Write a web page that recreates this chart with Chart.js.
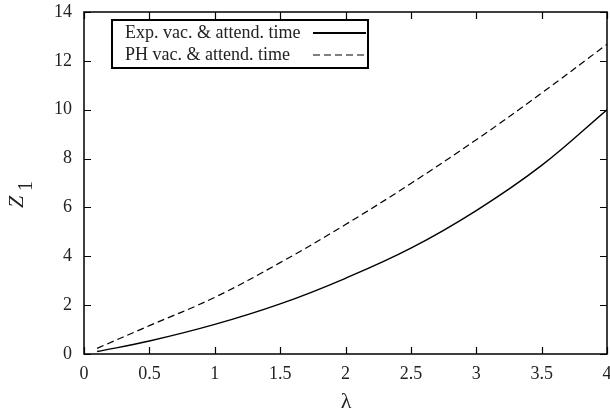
<!DOCTYPE html>
<html>
<head>
<meta charset="utf-8">
<script src="https://cdn.jsdelivr.net/npm/chart.js@4"></script>
<style>
  html, body { margin: 0; padding: 0; background: #fff; }
  #wrap { width: 610px; height: 413px; }
</style>
</head>
<body>
<div id="wrap"><canvas id="chart" width="610" height="413"></canvas></div>
<script>
// values
const lambda = [0.1, 0.5, 1, 1.5, 2, 2.5, 3, 3.5, 4];
const expZ = [0.10, 0.53, 1.21, 2.05, 3.10, 4.33, 5.87, 7.72, 10.0];
const phZ = [0.23, 1.16, 2.32, 3.74, 5.30, 6.98, 8.77, 10.68, 12.68];
const seriesNames = ["Exp. vac. & attend. time", "PH vac. & attend. time"];
const xTicks = [0, 0.5, 1, 1.5, 2, 2.5, 3, 3.5, 4];
const yTicks = [0, 2, 4, 6, 8, 10, 12, 14];

const serif = "'Liberation Serif', 'DejaVu Serif', serif";

// box, inward ticks, axis titles and gnuplot style key
const framePlugin = {
  id: "frame",
  afterDraw(chart) {
    const { ctx, chartArea: a, scales } = chart;
    const x = scales.x, y = scales.y;
    ctx.save();
    ctx.strokeStyle = "#000";
    ctx.lineWidth = 1.5;
    ctx.strokeRect(a.left, a.top, a.right - a.left, a.bottom - a.top);

    ctx.lineWidth = 1.2;
    ctx.beginPath();
    xTicks.forEach(v => {
      const px = Math.round(x.getPixelForValue(v)) + 0.5;
      ctx.moveTo(px, a.bottom); ctx.lineTo(px, a.bottom - 7);
      ctx.moveTo(px, a.top); ctx.lineTo(px, a.top + 7);
    });
    yTicks.forEach(v => {
      const py = Math.round(y.getPixelForValue(v)) + 0.5;
      ctx.moveTo(a.left, py); ctx.lineTo(a.left + 7, py);
      ctx.moveTo(a.right, py); ctx.lineTo(a.right - 7, py);
    });
    ctx.stroke();

    // axis titles
    ctx.fillStyle = "#222";
    ctx.textAlign = "center";
    ctx.textBaseline = "middle";
    ctx.font = "22px " + serif;
    ctx.fillText("\u03bb", 346, 402);

    ctx.save();
    ctx.translate(23, 208);
    ctx.rotate(-Math.PI / 2);
    ctx.textAlign = "left";
    ctx.textBaseline = "alphabetic";
    ctx.font = "italic 22px " + serif;
    ctx.fillText("Z", 0, 0);
    ctx.font = "20px " + serif;
    ctx.fillText("1", 17, 9);
    ctx.restore();

    // key
    const bx = 112, by = 20, bw = 256, bh = 48;
    ctx.fillStyle = "#fff";
    ctx.fillRect(bx, by, bw, bh);
    ctx.lineWidth = 2;
    ctx.strokeRect(bx, by, bw, bh);
    ctx.font = "18px " + serif;
    ctx.textAlign = "left";
    ctx.textBaseline = "middle";
    ctx.fillStyle = "#222";
    chart.data.datasets.forEach((ds, i) => {
      const ty = by + 13 + i * 22;
      ctx.fillText(ds.label, bx + 13, ty);
      ctx.strokeStyle = ds.borderColor;
      ctx.lineWidth = ds.borderDash ? 1.2 : 2;
      ctx.setLineDash(ds.borderDash || []);
      ctx.beginPath();
      ctx.moveTo(313, ty);
      ctx.lineTo(366, ty);
      ctx.stroke();
      ctx.setLineDash([]);
    });
    ctx.restore();
  }
};

new Chart(document.getElementById("chart"), {
  type: "line",
  data: {
    datasets: [
      {
        label: seriesNames[0],
        data: lambda.map((l, i) => ({ x: l, y: expZ[i] })),
        borderColor: "#000",
        borderWidth: 1.4,
        pointRadius: 0,
        tension: 0.4
      },
      {
        label: seriesNames[1],
        data: lambda.map((l, i) => ({ x: l, y: phZ[i] })),
        borderColor: "#000",
        borderWidth: 1.2,
        borderDash: [7, 4],
        pointRadius: 0,
        tension: 0.4
      }
    ]
  },
  options: {
    responsive: false,
    animation: false,
    layout: { padding: { top: 12, right: 3, left: 0, bottom: 0 } },
    plugins: { legend: { display: false }, tooltip: { enabled: false } },
    scales: {
      x: {
        type: "linear",
        min: 0,
        max: 4,
        afterBuildTicks: s => { s.ticks = xTicks.map(v => ({ value: v })); },
        afterFit: s => { s.height = 59; s.paddingLeft = 0; s.paddingRight = 0; },
        grid: { display: false, drawTicks: false },
        border: { display: false },
        ticks: {
          color: "#222", padding: 9, maxRotation: 0, autoSkip: false,
          font: { family: serif, size: 18 },
          callback: v => String(v)
        }
      },
      y: {
        min: 0,
        max: 14,
        afterBuildTicks: s => { s.ticks = yTicks.map(v => ({ value: v })); },
        afterFit: s => { s.width = 84; s.paddingTop = 0; s.paddingBottom = 0; },
        grid: { display: false, drawTicks: false },
        border: { display: false },
        ticks: { color: "#222", padding: 12, font: { family: serif, size: 18 } }
      }
    }
  },
  plugins: [framePlugin]
});
</script>
</body>
</html>
